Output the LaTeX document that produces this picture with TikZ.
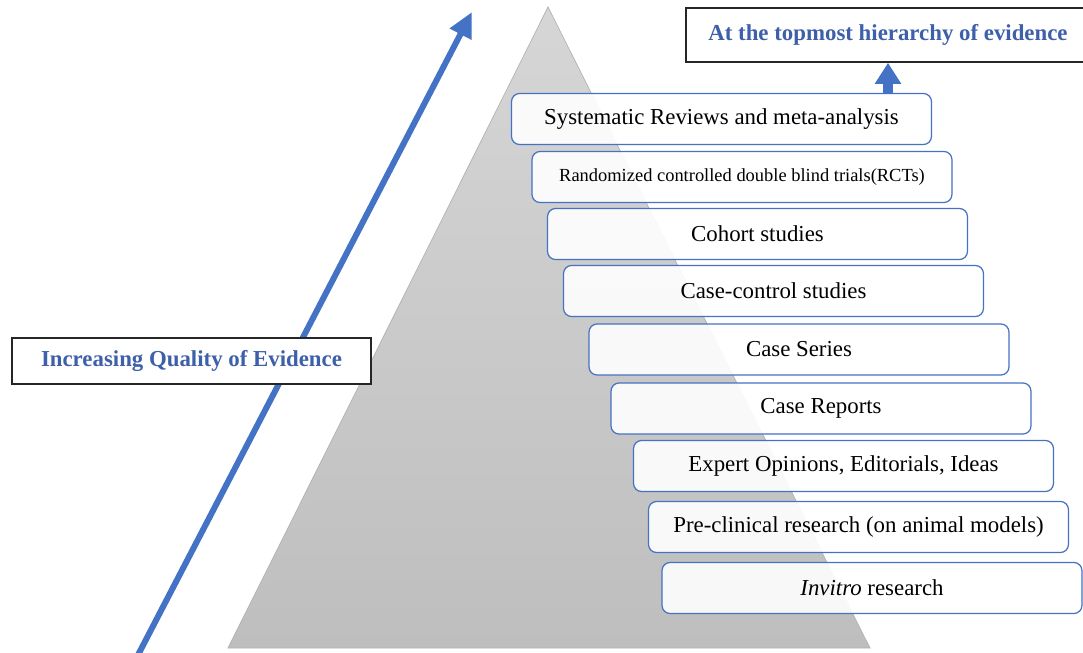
\documentclass[tikz,border=0pt]{standalone}
\usepackage{fontspec}
\setmainfont{Liberation Serif}
\usetikzlibrary{arrows.meta,shadings}

\definecolor{qblue}{RGB}{68,114,196}
\definecolor{qtitle}{RGB}{62,96,170}
\definecolor{pyrtop}{RGB}{214,214,214}
\definecolor{pyrbot}{RGB}{190,190,190}

\tikzset{
  tier/.style={draw=qblue,line width=0.7pt,rounded corners=0.16cm,fill=white,fill opacity=0.9,text opacity=1,
    minimum width=8.4cm,minimum height=1.02cm,inner sep=0pt,font=\fontsize{13}{15}\selectfont},
  caption/.style={draw=black!85,line width=0.9pt,fill=white,text=qtitle,inner sep=0pt,
    font=\fontsize{13}{15}\selectfont\bfseries}
}

\begin{document}
\begin{tikzpicture}[x=0.02cm,y=-0.02cm]
\useasboundingbox (0,0) rectangle (1083,653);
\clip (0,0) rectangle (1083,653);
% pyramid
\shadedraw[top color=pyrtop,bottom color=pyrbot,draw=black!30,line width=0.4pt] (548,7) -- (870,648) -- (228,648) -- cycle;
%
\coordinate (qlow) at (138,655);
\coordinate (qhigh) at (472,12);
\draw[qblue,line width=3.4pt,-{Triangle[length=0.5cm,width=0.46cm]}] (qlow) -- (qhigh);
%
\node[tier] (sys) at (721.5,119) {Systematic Reviews and meta-analysis};
\node[tier,font=\fontsize{10.5}{12}\selectfont] (rct) at (742,177) {Randomized controlled double blind trials(RCTs)};
\node[tier] (coh) at (757.5,234) {Cohort studies};
\node[tier] (cc) at (773.5,291) {Case-control studies};
\node[tier] (ser) at (799,349.5) {Case Series};
\node[tier] (rep) at (821,408.5) {Case Reports};
\node[tier] (expo) at (843.5,466) {Expert Opinions, Editorials, Ideas};
\node[tier] (pre) at (858.5,527) {Pre-clinical research (on animal models)};
\node[tier] (vit) at (872,588) {\textit{Invitro} research};
%
\node[caption,minimum width=8.08cm,minimum height=1.08cm] (top) at (888,35) {At the topmost hierarchy of evidence};
\node[caption,minimum width=7.18cm,minimum height=0.92cm] (iq) at (191.5,361) {Increasing Quality of Evidence};
%
\draw[qblue,line width=0.2cm,-{Triangle[length=0.42cm,width=0.5cm]}] (sys.north -| top.south) -- (top.south);
\end{tikzpicture}
\end{document}
